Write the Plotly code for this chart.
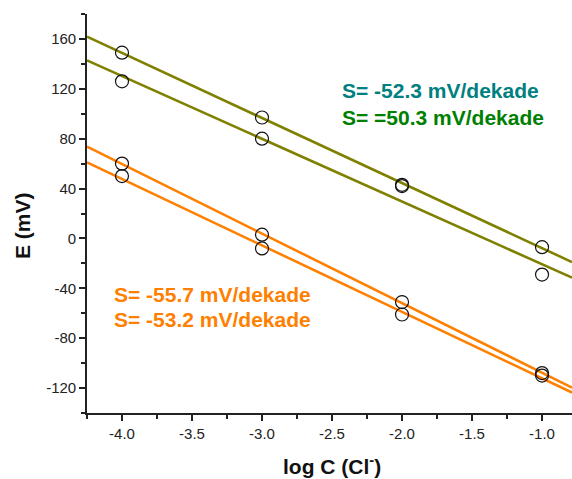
import numpy as np
import plotly.graph_objects as go

log_c = [-4.0, -3.0, -2.0, -1.0]
green_upper = [149, 97, 43, -7]
green_lower = [126, 80, 42, -29]
orange_upper = [60, 3, -51, -108]
orange_lower = [50, -8, -61, -110]

x_tickvals = [-4.0, -3.5, -3.0, -2.5, -2.0, -1.5, -1.0]
x_ticktext = ["-4.0", "-3.5", "-3.0", "-2.5", "-2.0", "-1.5", "-1.0"]
y_tickvals = [-120, -80, -40, 0, 40, 80, 120, 160]
y_ticktext = ["-120", "-80", "-40", "0", "40", "80", "120", "160"]

x_range = [-4.25, -0.786]
y_range = [-140, 180]

OLIVE = "#808000"
ORANGE = "#FF8000"
FONT = "Liberation Sans, Arial"

fig = go.Figure()
xs = np.array(x_range)
for ys, col in [(green_upper, OLIVE), (green_lower, OLIVE), (orange_upper, ORANGE), (orange_lower, ORANGE)]:
    k, b = np.polyfit(log_c, ys, 1)
    fig.add_trace(go.Scatter(x=xs, y=k * xs + b, mode="lines",
                             line=dict(color=col, width=2.6), showlegend=False, hoverinfo="skip"))
for ys in [green_upper, green_lower, orange_upper, orange_lower]:
    fig.add_trace(go.Scatter(x=log_c, y=ys, mode="markers",
                             marker=dict(symbol="circle-open", size=13, color="#111", line=dict(width=1.2)),
                             showlegend=False))

ann_font = dict(family=FONT, size=21)
fig.add_annotation(x=-2.443, y=118.4, text="<b>S= -52.3 mV/dekade</b>", showarrow=False, xanchor="left",
                   font=dict(color="#008080", **ann_font))
fig.add_annotation(x=-2.443, y=96.8, text="<b>S= =50.3 mV/dekade</b>", showarrow=False, xanchor="left",
                   font=dict(color="#008000", **ann_font))
fig.add_annotation(x=-4.07, y=-44.8, text="<b>S= -55.7 mV/dekade</b>", showarrow=False, xanchor="left",
                   font=dict(color=ORANGE, **ann_font))
fig.add_annotation(x=-4.07, y=-64.8, text="<b>S= -53.2 mV/dekade</b>", showarrow=False, xanchor="left",
                   font=dict(color=ORANGE, **ann_font))

# axis titles (positions given in pixels, converted below)
fig.add_annotation(x=22, y=226, text="<b>E (mV)</b>", showarrow=False,
                   textangle=-90, font=dict(family=FONT, size=21, color="#111"))
fig.add_annotation(x=332, y=465, text="<b>log C (Cl<sup>-</sup>)</b>", showarrow=False,
                   font=dict(family=FONT, size=21, color="#111"))

axis_common = dict(showline=True, linecolor="#222", linewidth=1.6, ticks="outside", ticklen=6,
                   tickwidth=1.6, tickcolor="#222", showgrid=False, zeroline=False, automargin=False,
                   tickfont=dict(family=FONT, size=15, color="#222"))
fig.update_xaxes(range=x_range, tickvals=x_tickvals, ticktext=x_ticktext,
                 minor=dict(dtick=0.25, tick0=-4.0, ticks="outside", ticklen=4, tickwidth=1.6, tickcolor="#222"),
                 **axis_common)
fig.update_yaxes(range=y_range, tickvals=y_tickvals, ticktext=y_ticktext,
                 minor=dict(dtick=20, tick0=0, ticks="outside", ticklen=4, tickwidth=1.6, tickcolor="#222"),
                 **axis_common)
L, R, T, B = 87, 0, 14, 66
fig.update_layout(width=572, height=479, margin=dict(l=L, r=R, t=T, b=B),
                  plot_bgcolor="white", paper_bgcolor="white")

pw, ph = 572 - L - R, 479 - T - B
for a in fig.layout.annotations[4:]:
    px, py = a.x, a.y
    a.xref = "paper"; a.yref = "paper"
    a.x = (px - L) / pw
    a.y = (479 - B - py) / ph
    a.xanchor = "center"; a.yanchor = "middle"

fig.write_html("out.html", config={"displayModeBar": False})
with open("out.html", encoding="utf-8") as f:
    html = f.read()
html = html.replace("<head>", "<head><style>html,body{margin:0;padding:0;overflow:hidden;}</style>", 1)
with open("out.html", "w", encoding="utf-8") as f:
    f.write(html)
